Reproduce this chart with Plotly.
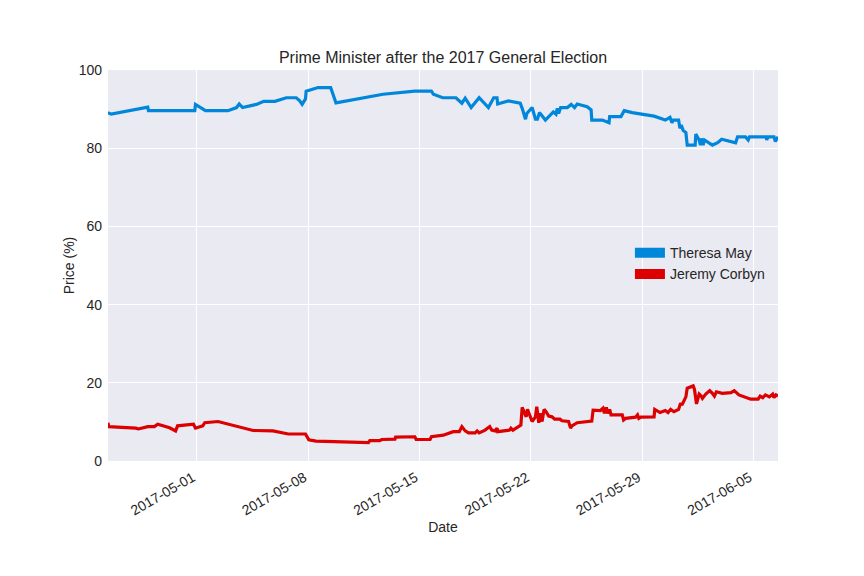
import plotly.graph_objects as go

title = "Prime Minister after the 2017 General Election"
may_name = "Theresa May"
corbyn_name = "Jeremy Corbyn"

may_dates = [
    "2017-04-25 10:00", "2017-04-25 15:00", "2017-04-27 22:00", "2017-04-27 23:00",
    "2017-04-30 21:00", "2017-04-30 22:00", "2017-05-01 13:00", "2017-05-02 23:00",
    "2017-05-03 12:00", "2017-05-03 16:00", "2017-05-03 21:00", "2017-05-04 18:00",
    "2017-05-05 05:00", "2017-05-05 22:00", "2017-05-06 15:00", "2017-05-07 06:00",
    "2017-05-07 11:00", "2017-05-07 15:00", "2017-05-07 20:00", "2017-05-07 21:00",
    "2017-05-08 15:00", "2017-05-09 10:00", "2017-05-09 18:00", "2017-05-12 17:00",
    "2017-05-14 17:00", "2017-05-15 18:00", "2017-05-15 21:00", "2017-05-16 11:00",
    "2017-05-17 07:00", "2017-05-17 16:00", "2017-05-17 21:00", "2017-05-18 06:00",
    "2017-05-18 18:00", "2017-05-19 08:00", "2017-05-19 16:00", "2017-05-19 21:00",
    "2017-05-19 22:00", "2017-05-20 14:00", "2017-05-21 08:00", "2017-05-21 11:00",
    "2017-05-21 16:00", "2017-05-21 18:00", "2017-05-22 02:00", "2017-05-22 07:00",
    "2017-05-22 10:00", "2017-05-22 13:00", "2017-05-22 22:00", "2017-05-23 03:00",
    "2017-05-23 10:00", "2017-05-23 14:00", "2017-05-23 16:00", "2017-05-23 18:00",
    "2017-05-23 21:00", "2017-05-24 07:00", "2017-05-24 13:00", "2017-05-24 18:00",
    "2017-05-24 22:00", "2017-05-25 13:00", "2017-05-25 19:00", "2017-05-25 20:00",
    "2017-05-26 12:00", "2017-05-26 22:00", "2017-05-26 23:00", "2017-05-27 16:00",
    "2017-05-27 21:00", "2017-05-28 09:00", "2017-05-29 18:00", "2017-05-30 11:00",
    "2017-05-30 18:00", "2017-05-30 21:00", "2017-05-30 23:00", "2017-05-31 07:00",
    "2017-05-31 09:00", "2017-05-31 11:00", "2017-05-31 14:00", "2017-05-31 18:00",
    "2017-05-31 20:00", "2017-06-01 08:00", "2017-06-01 09:00", "2017-06-01 14:00",
    "2017-06-01 16:00", "2017-06-01 17:00", "2017-06-01 20:00", "2017-06-01 22:00",
    "2017-06-02 10:00", "2017-06-02 18:00", "2017-06-03 00:00", "2017-06-03 21:00",
    "2017-06-04 00:00", "2017-06-04 12:00", "2017-06-04 16:00", "2017-06-04 18:00",
    "2017-06-05 19:00", "2017-06-05 20:00", "2017-06-05 22:00", "2017-06-06 07:00",
    "2017-06-06 09:00", "2017-06-06 13:00",
]
may_values = [
    89.1, 88.7, 90.5, 89.6,
    89.6, 91.2, 89.6, 89.6,
    90.4, 91.3, 90.4, 91.2,
    92.0, 92.0, 92.9, 92.9,
    92.2, 91.2, 92.6, 94.6,
    95.5, 95.5, 91.6, 93.8,
    94.6, 94.6, 93.8, 92.9,
    92.9, 91.5, 92.8, 90.4,
    92.9, 90.4, 92.9, 92.9,
    91.3, 92.1, 91.5, 90.2,
    87.4, 88.9, 90.4, 87.4,
    87.4, 89.1, 87.2, 88.1,
    89.3, 88.7, 90.2, 88.9,
    90.4, 90.4, 91.2, 90.4,
    91.3, 90.6, 89.8, 87.2,
    87.2, 86.5, 88.1, 88.1,
    89.6, 89.1, 88.2, 87.2,
    87.9, 86.5, 87.2, 87.2,
    85.1, 85.9, 84.5, 84.0,
    80.8, 80.8, 83.6, 82.1,
    80.8, 82.5, 80.8, 82.1,
    80.8, 81.4, 82.3, 81.4,
    82.9, 82.9, 82.1, 82.9,
    82.9, 82.1, 82.9, 82.9,
    81.7, 82.9,
]

corbyn_dates = [
    "2017-04-25 10:00", "2017-04-25 11:00", "2017-04-27 04:00", "2017-04-27 08:00",
    "2017-04-27 22:00", "2017-04-28 08:00", "2017-04-28 13:00", "2017-04-29 07:00",
    "2017-04-29 16:00", "2017-04-29 19:00", "2017-04-30 19:00", "2017-04-30 22:00",
    "2017-05-01 09:00", "2017-05-01 12:00", "2017-05-02 08:00", "2017-05-03 06:00",
    "2017-05-04 13:00", "2017-05-05 19:00", "2017-05-06 18:00", "2017-05-07 20:00",
    "2017-05-08 01:00", "2017-05-08 12:00", "2017-05-11 19:00", "2017-05-11 21:00",
    "2017-05-12 12:00", "2017-05-12 15:00", "2017-05-13 11:00", "2017-05-13 12:00",
    "2017-05-14 17:00", "2017-05-14 19:00", "2017-05-15 16:00", "2017-05-15 18:00",
    "2017-05-16 12:00", "2017-05-17 03:00", "2017-05-17 12:00", "2017-05-17 16:00",
    "2017-05-17 21:00", "2017-05-18 02:00", "2017-05-18 12:00", "2017-05-18 15:00",
    "2017-05-18 18:00", "2017-05-19 03:00", "2017-05-19 10:00", "2017-05-19 13:00",
    "2017-05-19 18:00", "2017-05-19 21:00", "2017-05-19 22:00", "2017-05-20 16:00",
    "2017-05-20 18:00", "2017-05-20 21:00", "2017-05-21 03:00", "2017-05-21 09:00",
    "2017-05-21 11:00", "2017-05-21 14:00", "2017-05-21 17:00", "2017-05-21 19:00",
    "2017-05-21 23:00", "2017-05-22 02:00", "2017-05-22 07:00", "2017-05-22 09:00",
    "2017-05-22 12:00", "2017-05-22 14:00", "2017-05-22 17:00", "2017-05-22 20:00",
    "2017-05-22 23:00", "2017-05-23 03:00", "2017-05-23 08:00", "2017-05-23 12:00",
    "2017-05-23 20:00", "2017-05-23 23:00", "2017-05-24 09:00", "2017-05-24 12:00",
    "2017-05-24 14:00", "2017-05-24 22:00", "2017-05-25 20:00", "2017-05-25 22:00",
    "2017-05-26 09:00", "2017-05-26 13:00", "2017-05-26 15:00", "2017-05-26 18:00",
    "2017-05-26 20:00", "2017-05-26 23:00", "2017-05-27 01:00", "2017-05-27 18:00",
    "2017-05-27 20:00", "2017-05-27 23:00", "2017-05-28 14:00", "2017-05-28 17:00",
    "2017-05-28 19:00", "2017-05-28 22:00", "2017-05-29 18:00", "2017-05-29 19:00",
    "2017-05-30 03:00", "2017-05-30 11:00", "2017-05-30 15:00", "2017-05-30 19:00",
    "2017-05-31 00:00", "2017-05-31 07:00", "2017-05-31 10:00", "2017-05-31 12:00",
    "2017-05-31 18:00", "2017-05-31 20:00", "2017-06-01 05:00", "2017-06-01 07:00",
    "2017-06-01 10:00", "2017-06-01 14:00", "2017-06-01 17:00", "2017-06-01 19:00",
    "2017-06-02 00:00", "2017-06-02 06:00", "2017-06-02 10:00", "2017-06-02 13:00",
    "2017-06-02 16:00", "2017-06-03 01:00", "2017-06-03 14:00", "2017-06-03 19:00",
    "2017-06-04 02:00", "2017-06-04 20:00", "2017-06-05 07:00", "2017-06-05 10:00",
    "2017-06-05 14:00", "2017-06-05 18:00", "2017-06-06 00:00", "2017-06-06 05:00",
    "2017-06-06 07:00", "2017-06-06 10:00", "2017-06-06 13:00",
]
corbyn_values = [
    9.8, 8.8, 8.4, 8.2,
    8.8, 8.8, 9.4, 8.5,
    7.7, 9.0, 9.4, 8.4,
    9.0, 9.8, 10.1, 9.2,
    7.8, 7.7, 6.9, 6.9,
    5.4, 5.1, 4.7, 5.2,
    5.2, 5.5, 5.6, 6.1,
    6.2, 5.5, 5.5, 6.2,
    6.6, 7.5, 7.5, 8.8,
    7.7, 7.2, 7.2, 7.7,
    7.2, 7.9, 8.8, 7.9,
    7.7, 8.4, 7.5, 7.9,
    8.4, 7.9, 8.6, 9.2,
    13.7, 12.6, 11.3, 13.2,
    11.5, 10.1, 11.3, 13.9,
    9.8, 12.2, 10.1, 13.2,
    12.6, 11.5, 11.3, 10.7,
    10.7, 10.3, 10.1, 8.4,
    9.0, 9.8, 10.2, 13.0,
    12.9, 13.5, 12.2, 13.7,
    12.2, 13.2, 11.8, 11.8,
    10.5, 10.9, 11.2, 11.8,
    10.9, 11.2, 11.3, 13.2,
    12.4, 12.9, 12.4, 13.2,
    12.6, 13.2, 14.8, 14.3,
    16.4, 18.6, 19.2, 18.3,
    14.6, 17.1, 16.6, 16.0,
    17.1, 18.0, 17.3, 16.6,
    17.7, 17.3, 17.5, 18.0,
    16.9, 15.8, 15.8, 16.6,
    16.2, 16.9, 16.4, 17.1,
    16.2, 16.9, 16.6,
]

y_ticks = [0, 20, 40, 60, 80, 100]
x_tick_start = "2017-05-01"

BLUE = "#0087DC"
RED = "#DC0000"
TEXT = "#262626"
FONT = "Liberation Sans, Arial, sans-serif"

fig = go.Figure()
fig.add_trace(go.Scatter(x=may_dates, y=may_values, mode="lines",
                         line=dict(color=BLUE, width=3.2), showlegend=False,
                         name=may_name))
fig.add_trace(go.Scatter(x=corbyn_dates, y=corbyn_values, mode="lines",
                         line=dict(color=RED, width=3.2), showlegend=False,
                         name=corbyn_name))
# legend entries drawn as thick patches
fig.add_trace(go.Scatter(x=[None], y=[None], mode="lines",
                         line=dict(color=BLUE, width=10), name=may_name))
fig.add_trace(go.Scatter(x=[None], y=[None], mode="lines",
                         line=dict(color=RED, width=10), name=corbyn_name))

# page body adds an 8px offset; margins compensate for it
fig.update_layout(
    width=864, height=576,
    margin=dict(l=100, r=94, t=62, b=123),
    paper_bgcolor="white",
    plot_bgcolor="#EAEAF2",
    font=dict(family=FONT, size=14, color=TEXT),
    title=dict(text=title, x=(100 + 770) / 2 / 864, xanchor="center",
               y=1 - 49 / 576, yanchor="middle",
               font=dict(size=16, color=TEXT, family=FONT)),
    legend=dict(x=0.779, xanchor="left", y=0.5725, yanchor="top",
                bgcolor="rgba(0,0,0,0)", borderwidth=0,
                font=dict(size=14, color=TEXT, family=FONT),
                tracegroupgap=0),
    showlegend=True,
)
fig.update_xaxes(
    type="date",
    range=[may_dates[0], may_dates[-1]],
    tick0=x_tick_start, dtick=7 * 86400000, tickformat="%Y-%m-%d",
    tickangle=-30, showgrid=True, gridcolor="white", gridwidth=1,
    zeroline=False, showline=False, ticks="",
    ticklabelstandoff=5, ticklabelshift=-4,
    title=dict(text="Date", font=dict(size=14, color=TEXT), standoff=4),
    tickfont=dict(size=14, color=TEXT),
)
fig.update_yaxes(
    range=[0, 100], tickvals=y_ticks,
    showgrid=True, gridcolor="white", gridwidth=1,
    zeroline=False, showline=False, ticks="",
    ticklabelstandoff=5,
    title=dict(text="Price (%)", font=dict(size=14, color=TEXT), standoff=0),
    tickfont=dict(size=14, color=TEXT),
)

fig.write_html("out.html")
